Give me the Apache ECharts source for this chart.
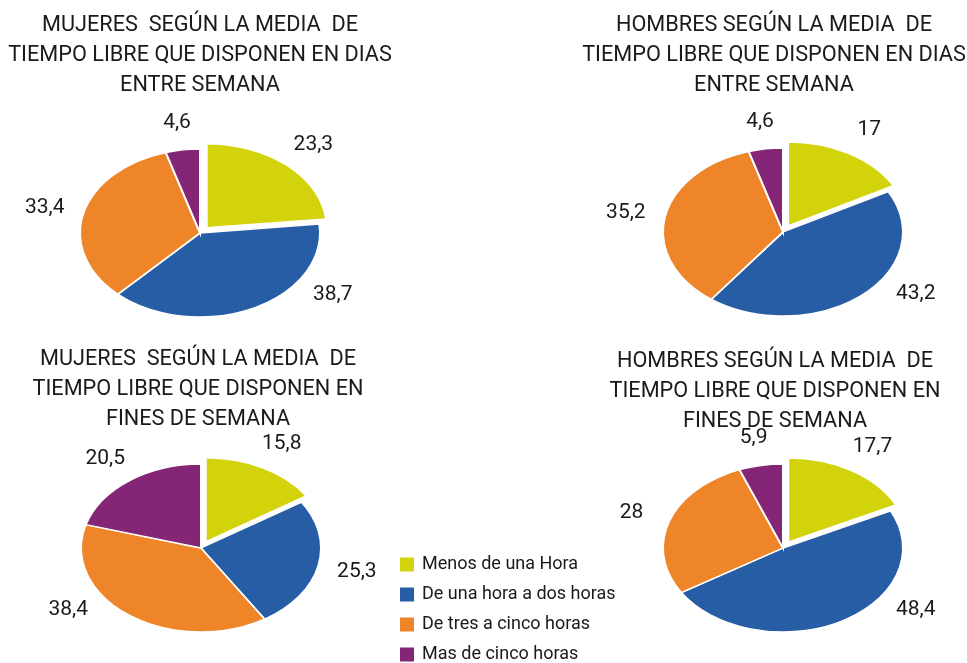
<!DOCTYPE html>
<html>
<head>
<meta charset="utf-8">
<script src="https://cdn.jsdelivr.net/npm/echarts@6/dist/echarts.min.js"></script>
<style>
  html, body { margin: 0; padding: 0; background: #fff; }
  #main { width: 967px; height: 663px; }
</style>
</head>
<body>
<div id="main"></div>
<script>
// categorias (leyenda) y colores
const categorias = ['Menos de una Hora', 'De una hora a dos horas', 'De tres a cinco horas', 'Mas de cinco horas'];
const colores = ['#d3d30c', '#275da5', '#ef8529', '#852575'];

// titulos de cada tarta
const titulos = [
  'MUJERES  SEGÚN LA MEDIA  DE\nTIEMPO LIBRE QUE DISPONEN EN DIAS\nENTRE SEMANA',
  'HOMBRES SEGÚN LA MEDIA  DE\nTIEMPO LIBRE QUE DISPONEN EN DIAS\nENTRE SEMANA',
  'MUJERES  SEGÚN LA MEDIA  DE\nTIEMPO LIBRE QUE DISPONEN EN\nFINES DE SEMANA',
  'HOMBRES SEGÚN LA MEDIA  DE\nTIEMPO LIBRE QUE DISPONEN EN\nFINES DE SEMANA'
];

// valores (%) en el orden de las categorias
const mujeresSemana = [23.3, 38.7, 33.4, 4.6];
const hombresSemana = [17, 43.2, 35.2, 4.6];
const mujeresFinde = [15.8, 25.3, 38.4, 20.5];
const hombresFinde = [17.7, 48.4, 28, 5.9];
const tartas = [mujeresSemana, hombresSemana, mujeresFinde, hombresFinde];

// posicion de cada tarta y de su titulo
const centros = [[200, 233], [783, 232], [201, 548], [783, 548]];
const titulosPos = [[200, 11], [774, 11], [198, 345], [775, 347]];
const RX = 120;
const ratio = 0.7;   // elipse (tarta inclinada)
const separar = 10;  // porcion destacada
const radioEtiq = 1.33;
const maxBajo = 62;  // las etiquetas no bajan mas de esto bajo el centro

const chart = echarts.init(document.getElementById('main'));

function renderPorcion(k) {
  return function (params, api) {
    const t = api.value(0);
    const v = api.value(1);
    const vals = tartas[t];
    let total = 0, ini = 0;
    for (let i = 0; i < vals.length; i++) {
      total += vals[i];
      if (i < k) ini += vals[i];
    }
    const a0 = ini / total * Math.PI * 2;
    const a1 = (ini + v) / total * Math.PI * 2;
    const mid = (a0 + a1) / 2;
    let ox = 0, oy = 0;
    if (k === 0) {
      ox = separar * Math.sin(mid);
      oy = -separar * Math.cos(mid) * ratio;
    }
    const cx = centros[t][0] + ox;
    const cy = centros[t][1] + oy;

    // etiqueta fuera de la porcion; si cae muy abajo se desliza por la elipse
    const ry = radioEtiq * RX * ratio;
    let ang = mid;
    if (-Math.cos(ang) * ry > maxBajo) {
      const a = Math.acos(-maxBajo / ry);
      ang = Math.sin(mid) >= 0 ? a : Math.PI * 2 - a;
    }
    return {
      type: 'group',
      children: [{
        type: 'sector',
        x: cx,
        y: cy,
        scaleY: ratio,
        shape: {
          cx: 0, cy: 0, r: RX, r0: 0,
          startAngle: a0 - Math.PI / 2,
          endAngle: a1 - Math.PI / 2,
          clockwise: true
        },
        style: { fill: api.visual('color'), stroke: '#fff', lineWidth: 2 }
      }, {
        type: 'text',
        x: cx + radioEtiq * RX * Math.sin(ang),
        y: cy - ry * Math.cos(ang),
        style: {
          text: String(v).replace('.', ','),
          align: 'center',
          verticalAlign: 'middle',
          fill: '#1a1a1a',
          font: '21px Roboto'
        }
      }]
    };
  };
}

const series = categorias.map(function (nombre, k) {
  return {
    name: nombre,
    type: 'custom',
    coordinateSystem: 'none',
    itemStyle: { color: colores[k] },
    renderItem: renderPorcion(k),
    data: tartas.map(function (vals, t) { return [t, vals[k]]; })
  };
});

const optionData = {
  animation: false,
  legend: {
    orient: 'vertical',
    left: 400,
    top: 555,
    height: 130,
    padding: 0,
    icon: 'rect',
    itemWidth: 14,
    itemHeight: 14,
    itemGap: 11,
    selectedMode: false,
    data: categorias,
    textStyle: { fontFamily: 'Roboto', fontSize: 18, color: '#1a1a1a', lineHeight: 19, padding: [0, 0, 0, 3] }
  },
  graphic: titulos.map(function (txt, t) {
    return {
      type: 'text',
      x: titulosPos[t][0],
      y: titulosPos[t][1],
      style: {
        text: txt,
        align: 'center',
        verticalAlign: 'top',
        fill: '#1a1a1a',
        font: '21.7px Roboto',
        lineHeight: 30
      }
    };
  }),
  series: series
};

chart.setOption(optionData);
</script>
</body>
</html>
